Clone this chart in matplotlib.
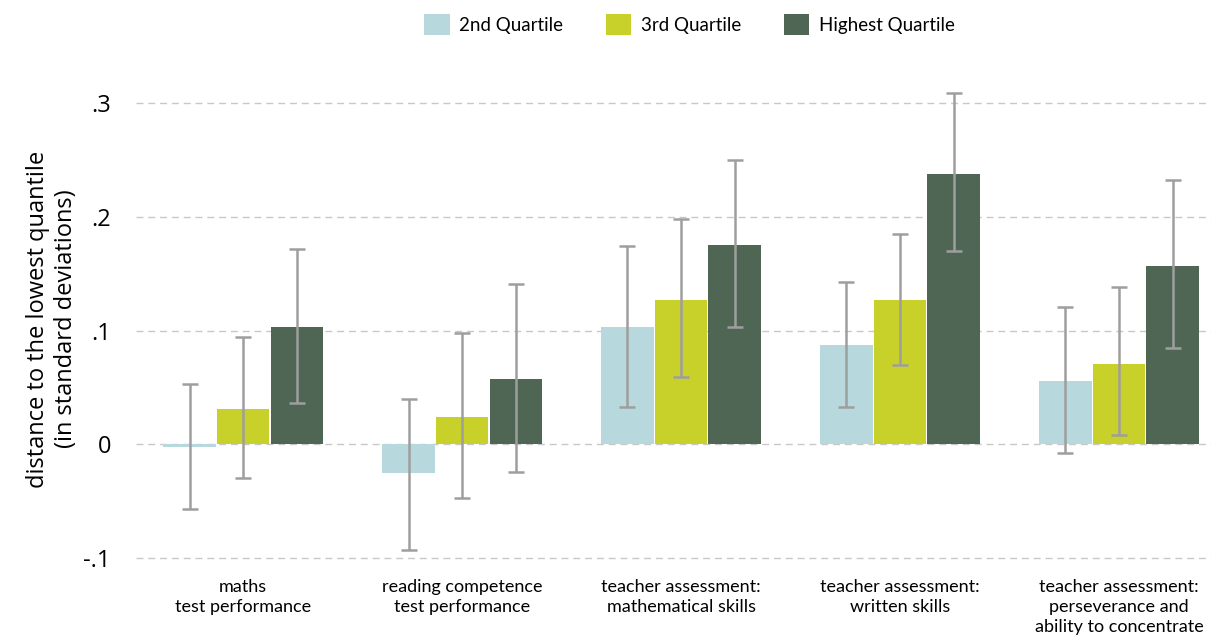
import matplotlib
matplotlib.use("Agg")
import matplotlib.pyplot as plt
import numpy as np
from matplotlib.patches import Patch

categories = ["maths\ntest performance",
              "reading competence\ntest performance",
              "teacher assessment:\nmathematical skills",
              "teacher assessment:\nwritten skills",
              "teacher assessment:\nperseverance and\nability to concentrate"]
series_names = ["2nd Quartile", "3rd Quartile", "Highest Quartile"]
q2 = [-0.002, -0.025, 0.103, 0.087, 0.056]
q3 = [0.031, 0.024, 0.127, 0.127, 0.071]
q4 = [0.103, 0.057, 0.175, 0.238, 0.157]
q2_lo = [-0.057, -0.093, 0.033, 0.033, -0.008]
q2_hi = [0.053, 0.040, 0.174, 0.143, 0.121]
q3_lo = [-0.030, -0.047, 0.059, 0.070, 0.008]
q3_hi = [0.094, 0.098, 0.198, 0.185, 0.138]
q4_lo = [0.036, -0.024, 0.103, 0.170, 0.085]
q4_hi = [0.172, 0.141, 0.250, 0.309, 0.232]
yticks = [-0.1, 0, 0.1, 0.2, 0.3]
yticklabels = ["-.1", "0", ".1", ".2", ".3"]

colors = ["#b7d9de", "#c8d12a", "#4f6655"]
err_color = "#9e9e9e"

fig = plt.figure(figsize=(12.16, 6.4), dpi=100)
ax = fig.add_axes([0.1118, 0.1103, 0.884, 0.782])

x = np.arange(len(categories))
w = 0.24
gap = 0.005
vals = [q2, q3, q4]
los = [q2_lo, q3_lo, q4_lo]
his = [q2_hi, q3_hi, q4_hi]
for i in range(3):
    pos = x + (i - 1) * (w + gap)
    v = np.array(vals[i]); lo = np.array(los[i]); hi = np.array(his[i])
    ax.bar(pos, v, width=w, color=colors[i], zorder=2)
    ax.errorbar(pos, v, yerr=[v - lo, hi - v], fmt="none", ecolor=err_color,
                elinewidth=1.8, capsize=6, capthick=1.8, zorder=3)

ax.set_xlim(-0.49, 4.42)
ax.set_ylim(-0.11, 0.33)
ax.set_yticks(yticks)
ax.set_yticklabels(yticklabels, fontsize=17, family="Open Sans")
ax.yaxis.grid(True, linestyle=(0, (5, 3.5)), color="#c8c8c8", linewidth=1, zorder=0)
ax.set_axisbelow(True)
for s in ax.spines.values():
    s.set_visible(False)
ax.tick_params(axis="both", length=0)
ax.tick_params(axis="y", pad=18)
ax.set_xticks(x)
ax.set_xticklabels(categories, fontsize=13, family="Lato", linespacing=1.3)
ax.tick_params(axis="x", pad=7)
ax.set_ylabel("distance to the lowest quantile\n(in standard deviations)", fontsize=17,
              family="Open Sans", labelpad=4, linespacing=1.2)

handles = [Patch(facecolor=c, edgecolor="none") for c in colors]
fig.legend(handles, series_names, loc="center", bbox_to_anchor=(0.567, 0.962), ncol=3,
           frameon=False, prop={"family": "Lato", "size": 13.5},
           handlelength=1.35, handleheight=1.35, columnspacing=2.3, handletextpad=0.5)

fig.savefig("out.png", dpi=100)
